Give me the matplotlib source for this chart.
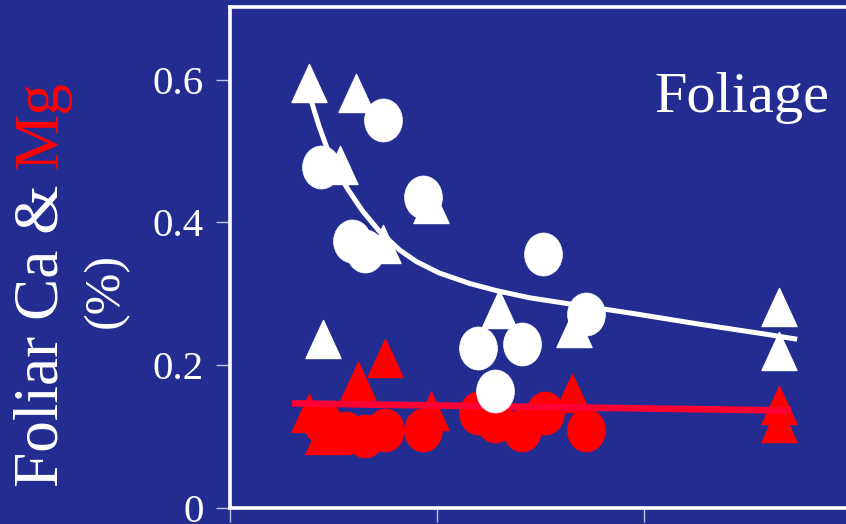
import matplotlib
matplotlib.use("Agg")
import matplotlib.pyplot as plt
from matplotlib.path import Path
from matplotlib.markers import MarkerStyle
from matplotlib.transforms import Affine2D
import numpy as np

plt.rcParams['font.family'] = ['Liberation Serif', 'DejaVu Serif']

# ---------------- data ----------------
ca_tri_x = [0.38, 0.61, 0.53, 0.74, 0.97, 0.45, 1.30, 1.66, 2.65, 2.65]
ca_tri_y = [0.595, 0.582, 0.480, 0.370, 0.426, 0.237, 0.279, 0.252, 0.281, 0.220]

ca_circ_x = [0.44, 0.74, 0.59, 0.65, 0.93, 1.51, 1.72, 1.20, 1.41, 1.28]
ca_circ_y = [0.477, 0.543, 0.374, 0.360, 0.435, 0.356, 0.272, 0.224, 0.230, 0.163]

mg_tri_x = [0.62, 0.75, 0.38, 0.45, 0.97, 1.65, 2.65, 2.65]
mg_tri_y = [0.178, 0.209, 0.132, 0.102, 0.136, 0.161, 0.144, 0.118]

mg_circ_x = [0.45, 0.56, 0.65, 0.75, 0.93, 1.20, 1.28, 1.41, 1.52, 1.72]
mg_circ_y = [0.118, 0.105, 0.100, 0.109, 0.109, 0.133, 0.121, 0.108, 0.133, 0.108]

ca_curve_x = [0.38, 0.43, 0.48, 0.53, 0.57, 0.64, 0.72, 0.82, 0.90, 1.01, 1.16,
              1.29, 1.45, 1.63, 1.95, 2.27, 2.59, 2.74]
ca_curve_y = [0.582, 0.535, 0.495, 0.466, 0.446, 0.416, 0.388, 0.361, 0.345, 0.329,
              0.314, 0.304, 0.294, 0.286, 0.272, 0.257, 0.243, 0.236]

mg_line_x = [0.30, 2.71]
mg_line_y = [0.146, 0.136]

y_ticks = [0, 0.2, 0.4, 0.6]
y_tick_labels = ["0", "0.2", "0.4", "0.6"]
x_ticks = [0, 1, 2]

# ---------------- styling ----------------
W, H = 846, 524
bg = '#232D91'
white = '#FFFFFF'
red = '#FF0000'
red_line = '#FF0033'
tick_col = '#C0C4E0'

fig = plt.figure(figsize=(W / 100, H / 100), dpi=100)
fig.patch.set_facecolor(bg)

left_px, bottom_px, top_px = 230, 507.5, 6.5
px_per_x = 207.0
px_per_y = 713.0
ax_w_px = 660
ax = fig.add_axes([left_px / W, (H - bottom_px) / H, ax_w_px / W, (bottom_px - top_px) / H])
ax.set_facecolor(bg)
ax.set_xlim(0, ax_w_px / px_per_x)
ax.set_ylim(0, (bottom_px - top_px) / px_per_y)

for s in ['left', 'top', 'bottom']:
    ax.spines[s].set_color(white)
    ax.spines[s].set_linewidth(2.6)
ax.spines['right'].set_visible(False)

ax.set_yticks(y_ticks)
ax.set_yticklabels(y_tick_labels)
ax.set_xticks(x_ticks)
ax.set_xticklabels([])
ax.tick_params(axis='y', direction='out', length=10, width=1.0, color=tick_col,
               labelcolor=white, labelsize=29.5, pad=9)
ax.tick_params(axis='x', direction='out', length=10, width=1.0, color=tick_col)

# custom markers (slightly taller than wide, as in the reference)
ell = Path.unit_circle().transformed(Affine2D().scale(0.88, 1.0))
circ_marker = MarkerStyle(ell)
tri_path = Path([(0, 0.5), (-0.46, -0.5), (0.46, -0.5), (0, 0.5)],
                [Path.MOVETO, Path.LINETO, Path.LINETO, Path.CLOSEPOLY])
tri_marker = MarkerStyle(tri_path)

circ_ms = 43 * 0.72
tri_ms = 38 * 0.72

ax.plot(mg_circ_x, mg_circ_y, ls='none', marker=circ_marker, ms=circ_ms,
        mfc=red, mec=red, mew=0.5, zorder=3)
ax.plot(mg_tri_x, mg_tri_y, ls='none', marker=tri_marker, ms=tri_ms,
        mfc=red, mec=red, mew=1.0, zorder=3)
ax.plot(mg_line_x, mg_line_y, color=red_line, lw=4.8, solid_capstyle='butt', zorder=4)

ax.plot(ca_curve_x, ca_curve_y, color=white, lw=3.6, solid_capstyle='butt',
        solid_joinstyle='round', zorder=5)
ax.plot(ca_circ_x, ca_circ_y, ls='none', marker=circ_marker, ms=circ_ms,
        mfc=white, mec=white, mew=0.5, zorder=6)
ax.plot(ca_tri_x, ca_tri_y, ls='none', marker=tri_marker, ms=tri_ms,
        mfc=white, mec=white, mew=1.0, zorder=6)

# "Foliage" label
fig.text(654 / W, 1 - 112 / H, "Foliage", color=white, fontsize=42,
         ha='left', va='baseline')

# y-axis label with coloured "Mg"
x0, y0 = 57 / W, 1 - 487 / H
lab_kw = dict(rotation=90, rotation_mode='anchor', va='baseline', fontsize=45.5)
full = fig.text(x0, y0, "Foliar Ca & Mg", ha='left', color=white, alpha=0, **lab_kw)
fig.canvas.draw()
bb = full.get_window_extent(fig.canvas.get_renderer())
full.remove()
fig.text(x0, y0, "Foliar Ca & ", ha='left', color=white, **lab_kw)
fig.text(x0, bb.y1 / fig.bbox.height, "Mg", ha='right', color=red, **lab_kw)

fig.text(118 / W, 1 - 290 / H, "(%)", ha='center', color=white, rotation=90,
         rotation_mode='anchor', va='baseline', fontsize=36)

fig.savefig("out.png", dpi=100, facecolor=bg)
